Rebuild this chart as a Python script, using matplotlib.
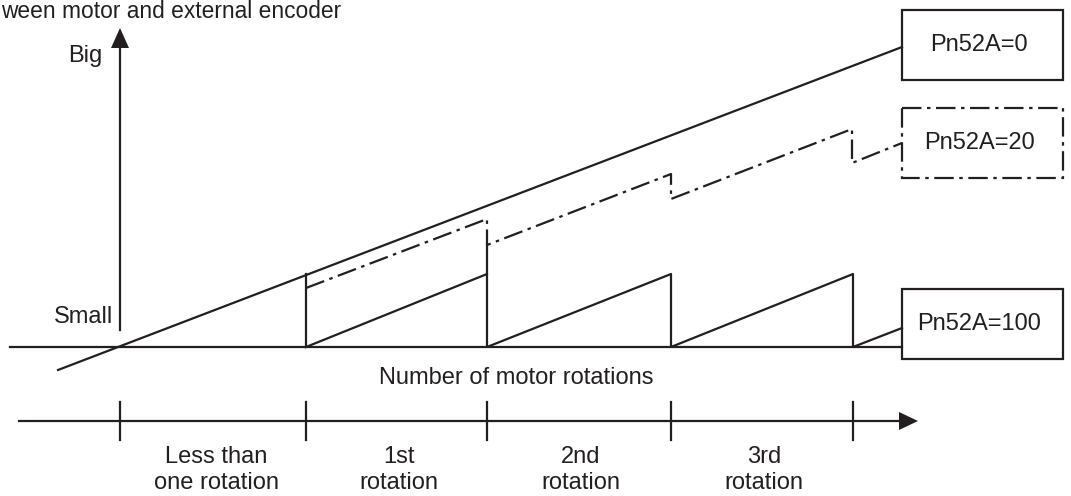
import matplotlib.pyplot as plt
from matplotlib.patches import Rectangle

plt.rcParams['font.family'] = ['Liberation Sans', 'DejaVu Sans']
plt.rcParams['lines.scale_dashes'] = False

ink = '#231f20'

# diagram drawn in pixel space of the original picture (y grows downwards)
rot_ticks = [120, 306, 487, 671, 853]
rot_labels = ['Less than\none rotation', '1st\nrotation', '2nd\nrotation', '3rd\nrotation']
label_x = [216, 399, 581, 764]

# Pn52A=0 : straight growing deviation
p0_x = [58, 902]
p0_y = [370, 47]

# Pn52A=20 : partly reset every rotation
p20_x = [306, 487, 487, 671, 671, 852, 852, 902]
p20_y = [288, 219, 245, 174, 199, 129, 163, 143]

# Pn52A=100 : fully reset every rotation
p100_x = [306, 487, 487, 671, 671, 853, 853, 902]
p100_y = [347, 274, 347, 274, 347, 274, 347, 328]

box_names = ['Pn52A=0', 'Pn52A=20', 'Pn52A=100']
box_top = [10, 108, 289]

fig = plt.figure(figsize=(10.71, 4.96), dpi=100)
ax = fig.add_axes([0, 0, 1, 1])
ax.set_xlim(0, 1071)
ax.set_ylim(496, 0)
ax.axis('off')

lw = 1.6
dashdot = (0, (14, 4, 2.5, 4))
box_style = ['-', dashdot, '-']

# title (only the part that shows in the original)
ax.text(1, 12, 'ween motor and external encoder', ha='left', va='center',
        fontsize=16.4, color=ink)

# vertical axis with arrow
ax.plot([120, 120], [330, 45], color=ink, lw=lw)
ax.fill([111, 120, 129], [48, 28, 48], color=ink, lw=0)
ax.text(102, 56, 'Big', ha='right', va='center', fontsize=17, color=ink)
ax.text(113, 317, 'Small', ha='right', va='center', fontsize=17, color=ink)

# baseline
ax.plot([10, 902], [347, 347], color=ink, lw=lw)

# the three curves
ax.plot(p0_x, p0_y, color=ink, lw=lw)
ax.plot(p100_x, p100_y, color=ink, lw=lw)
ax.plot([306, 306], [347, 274], color=ink, lw=lw)
ax.plot([487, 487], [274, 245], color=ink, lw=lw)
ax.plot(p20_x, p20_y, color=ink, lw=lw, linestyle=dashdot)

# boxes
for name, top, ls in zip(box_names, box_top, box_style):
    ax.add_patch(Rectangle((902, top), 161, 70, fill=False, edgecolor=ink, lw=lw, linestyle=ls))
    ax.text(979, top + 35, name, ha='center', va='center', fontsize=17, color=ink)

ax.text(516, 378, 'Number of motor rotations', ha='center', va='center', fontsize=17, color=ink)

# lower rotation axis
ax.plot([19, 902], [421, 421], color=ink, lw=lw)
ax.fill([899, 918, 899], [412, 421, 430], color=ink, lw=0)
for t in rot_ticks:
    ax.plot([t, t], [402, 440], color=ink, lw=lw)
for x, lab in zip(label_x, rot_labels):
    ax.text(x, 470, lab, ha='center', va='center', fontsize=17, color=ink, linespacing=1.25)

fig.savefig('out.png', dpi=100)
